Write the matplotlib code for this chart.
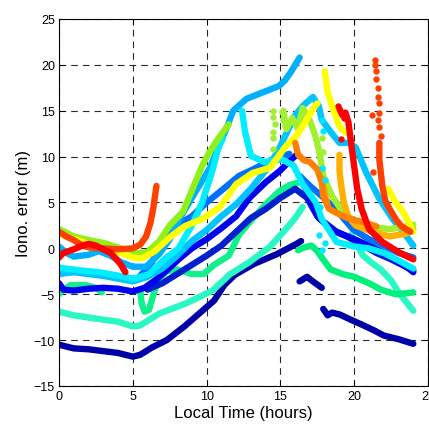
import numpy as np
import matplotlib.pyplot as plt

plt.rcParams['font.family'] = ['Liberation Sans', 'DejaVu Sans']

# traces: (local time in hours, iono error in m)
navy_a = [(0, -10.5), (1, -10.9), (2, -11), (3, -11.2), (4, -11.4), (5, -11.8), (5.5, -11.6),
          (6.3, -10.8), (7.3, -10), (8.5, -8.5), (9.5, -7.1), (10.5, -5.7), (11.2, -4),
          (11.9, -2.9), (13.2, -1.7), (14.8, -0.6), (16.1, 0.5), (16.4, 0.8)]
navy_b = [(16.3, -3.6), (16.8, -3.1), (17.2, -3.6), (17.8, -4.3)]
navy_c = [(17.9, -6.6), (18.2, -7.3), (18.5, -7), (19, -7.2), (19.8, -7.8), (20.5, -8.3),
          (21.3, -8.9), (22, -9.5), (23, -9.9), (24, -10.4)]

teal_a = [(0, -6.9), (1, -7.3), (2.7, -7.7), (4, -8), (5, -8.5), (5.5, -8.4), (6.8, -7.1),
          (8.6, -6), (10.4, -4.6), (11.6, -2.8), (12.9, -1.5), (14.3, 0.2), (15.2, 1.8),
          (16, 3.3), (16.5, 4.5)]
teal_b = [(19.8, 1.5), (20.2, 0.3), (20.6, -0.8), (21.2, -1.6), (21.8, -2.3), (22.5, -3.5),
          (23, -4.8), (23.5, -5.8), (24, -6.8)]

green_v_a = [(0, -5), (0.3, -4.5), (0.8, -4), (1.8, -4), (2.5, -4.3), (2.9, -4.8)]
green_v_b = [(5.5, -4.5), (5.6, -6), (5.8, -6.9), (6.1, -6.7), (6.4, -5), (6.8, -3.2),
             (7.3, -2.5), (8, -2.3), (9, -2.8), (9.8, -2.8), (10.5, -1.8), (11.5, -0.8),
             (12.2, 1.5), (13, 3), (14, 4.8), (14.9, 6.2), (15.6, 6.9), (16.3, 7.2)]
green_b = [(16.2, -0.2), (16.6, 0.1), (17.1, 0.3), (17.5, -0.3), (17.8, -1), (18.4, -2.3),
           (19.2, -2.8), (20, -3.1), (21, -3.8), (21.8, -4.5), (22.8, -5), (23.5, -4.9),
           (24, -4.8)]

blue1_a = [(0, -3.8), (0.3, -4.5), (1, -4.6), (2, -4.4), (3, -4.3), (4, -4.4), (5, -4.7),
           (5.8, -4.3), (6.5, -3.5), (7.3, -2.4), (8.1, -1.2), (9, 0), (10, 1), (11, 2.2),
           (12, 3.5), (12.9, 5.5), (14, 7.2), (15, 8.5), (15.6, 9.5), (16.1, 10.2)]
blue1_b = [(16.4, 7.5), (17, 5.5), (17.6, 3.3), (18.8, 1.8), (20, 1), (21, 0.3), (22, -0.5),
           (23, -1.5), (23.7, -2.2), (24, -2.6)]
blue2 = [(6, -4.5), (7, -3.8), (8, -2.8), (9, -1.8), (10, -0.8), (11, 0.3), (12, 1.8),
         (13, 3.3), (14, 4.3), (15, 5.5), (16, 6.5), (16.8, 5.5), (17.5, 3.5), (18.5, 2),
         (19.5, 1.3), (20.5, 0.4), (21.5, -0.5), (22.5, -1.2), (23.5, -2), (24, -2.4)]
dodger_a = [(5.5, -3), (6.3, -1.5), (7, 1), (8, 2.5), (9, 3.5), (10, 5), (11, 6.3),
            (12.2, 7.9), (13, 8.5), (14, 9.3), (15, 10), (15.6, 10.3)]
dodger_b = [(16.3, 7.9), (17, 6.8), (17.8, 5.7), (19, 3.8), (19.9, 2.1), (21, 1), (22, 0.3),
            (23, -0.5), (24, -1)]

sky1 = [(0, 0.2), (0.5, -0.5), (1, -0.9), (2, -0.7), (2.7, -0.3), (3.5, -0.8), (4.2, -1.5),
        (5, -2), (5.9, -2), (6.8, -0.6), (7.5, 1), (8.2, 3.3), (9.3, 6.3), (10.2, 8.7),
        (10.8, 11), (11.4, 13.3), (11.8, 15), (12.7, 16.3), (13.8, 17), (14.9, 17.7),
        (15.3, 18.3), (15.7, 19.2), (16.3, 20.8)]
sky2 = [(0, -2.8), (1, -2.6), (2, -2.8), (3, -3), (4, -3.3), (5, -3.6), (6, -3.1), (7, -2.2),
        (8, -0.8), (9, 0.8), (10, 2), (11, 3.5), (12, 4.8), (13, 6.5), (14, 8.5), (14.8, 10.5),
        (15.4, 12.5), (16, 14.5), (16.5, 15.5), (17.2, 16.5), (17.6, 15.5), (17.8, 14),
        (18.4, 12.7), (19, 11.5), (19.6, 11.5), (20.1, 11), (20.8, 8.3), (21.7, 5.4),
        (22.6, 3.2), (23.5, 1.4), (24, 0.3)]

cyan_a = [(0, -2.1), (1.4, -2.4), (2.7, -2.6), (4.1, -3), (5.1, -3.3), (6.1, -2.8), (7.2, -1.1),
          (8.1, 0), (9, 2.5), (9.7, 5), (10.4, 8.5), (10.8, 11), (11.1, 12)]
cyan_b = [(12.4, 15), (12.6, 12.7), (13, 10.1), (13.9, 9.4), (15.1, 9.7), (15.9, 9), (16.5, 7),
          (17.4, 5), (17.8, 3.2), (18.8, 0.7), (20, 0.2), (21, 0), (22, -0.5), (23.2, -1.5),
          (24, -2.2)]
cyan_dots = [(17.8, 14), (17.9, 12.8), (17.8, 8.8), (18, 7.5), (17.7, 4.5), (17.6, 1.5),
             (18, 0.6), (17.8, -0.2)]

lime_a = [(0, 2.1), (1, 1.3), (2, 0.9), (3, 0.6), (4, 0.1), (5, -0.6), (6, -0.4), (6.8, 0.8),
          (7.5, 2.5), (8.4, 4), (9, 6.3), (9.7, 9), (10.2, 10.5), (10.8, 12), (11.5, 13.5)]
lime_b = [(15.2, 15), (15.4, 13), (15.8, 14.2), (16.2, 13), (16.5, 15.3), (16.9, 14.3),
          (17.3, 12.6), (17.6, 10.8), (17.8, 9), (17.9, 7.9), (18.5, 5.7), (19.2, 4), (20, 3),
          (20.8, 2.4), (22.4, 2.1), (23.2, 2.3), (24, 2.6)]
lime_dots = [(14.5, 15), (14.5, 14.3), (14.6, 13.5), (14.5, 12.7), (14.5, 12), (14.5, 10.8),
             (15.1, 14.9), (15.2, 14), (15.3, 13.3), (17.8, 12), (17.9, 10.5)]

yellow_a = [(0, 1.6), (1, 1), (2, 0.5), (3, 0), (4, -0.4), (5, -1), (5.6, -1.1), (6.5, -0.3),
            (7.5, 1.2), (8.5, 2.4), (9.7, 3.2), (10.9, 4.5), (12, 7), (13.1, 8.2), (14.3, 8.8),
            (15.4, 11.2), (16.1, 12.3), (16.7, 13.8), (17.2, 15.2), (17.5, 15.8)]
yellow_b = [(18, 19.3), (18.2, 17), (18.6, 15), (19, 13.3), (19.4, 12.6)]
yellow_c = [(22.3, 6.5), (22.8, 5), (23.3, 4), (23.8, 2.5), (24, 1.8)]

amber_a = [(19, 10.2), (19, 8.5), (19.1, 7), (19.3, 5), (19.6, 3.4), (20.1, 2.5), (21.2, 1.8),
           (22.4, 1.3), (23.5, 1.6), (24, 2.1)]
amber_b = [(17.8, 7.6), (18, 6), (18.2, 4.6)]
orange = [(16, 11.5), (16.2, 10.2), (16.6, 9.6), (17, 9.4), (17.5, 8.6), (17.8, 7.2),
          (17.9, 5.7), (18.3, 4.3), (19, 3.7), (19.7, 3.2), (20.5, 2.9), (21.5, 2.4)]

ored_a = [(0, 1.8), (0.5, 1.3), (1, 0.9), (1.5, 0.4), (2, 0.1), (3, 0), (4, -0.1), (5, 0),
          (5.5, 0.4), (5.9, 1.3), (6.2, 2.8), (6.4, 4.5), (6.6, 6.8)]
ored_b = [(21.7, 11.5), (21.7, 9.7), (21.9, 6.8), (22.1, 5.2), (22.4, 4.3), (22.8, 3.2),
          (23.2, 2.4), (23.8, 1.8)]
ored_dots = [(21.4, 20.5), (21.4, 20), (21.5, 19.3), (21.5, 18.5), (21.6, 17.5), (21.6, 16.5),
             (21.7, 15.8), (21.7, 14.8), (21.6, 14), (21.7, 13.2), (21.8, 12.3), (21.2, 14.5),
             (21.3, 8.3)]

red_a = [(0, -1), (0.3, -0.5), (1, -0.1), (1.6, 0.3), (2, 0.5), (2.5, 0.3), (3, -0.1),
         (3.5, -0.5), (3.9, -1.2), (4.2, -1.8), (4.5, -2.6)]
red_b = [(19, 15.2), (19.2, 14.5), (19.4, 14.8), (19.6, 13.8), (19.9, 10.1), (20.2, 6.5),
         (20.5, 4.3), (21, 2.1), (21.9, 0.7), (23, -0.4), (23.6, -0.9), (24, -1.2)]
red_dots = [(19.1, 11.9), (18.9, 15.5), (19.3, 14.2)]

lines = [
    (navy_a, '#0000A8'), (navy_b, '#0000A8'), (navy_c, '#0000A8'),
    (teal_a, '#28F8C4'), (teal_b, '#28F8C4'),
    (green_b, '#00F07C'), (green_v_a, '#10F08C'), (green_v_b, '#10F08C'),
    (blue2, '#0020D0'), (blue1_a, '#0000F0'), (blue1_b, '#0000F0'),
    (dodger_a, '#0070FF'), (dodger_b, '#0070FF'),
    (sky2, '#00C4FF'), (sky1, '#00B0FF'),
    (cyan_a, '#00EEFF'), (cyan_b, '#00EEFF'),
    (lime_a, '#90F018'), (lime_b, '#A0F030'),
    (amber_a, '#FFB000'), (amber_b, '#FFA000'),
    (yellow_a, '#FFFF00'), (yellow_b, '#FFFF00'), (yellow_c, '#FFFF00'),
    (orange, '#FF8000'),
    (ored_a, '#FF4000'), (ored_b, '#FF4000'),
    (red_a, '#FF0000'), (red_b, '#FF0000'),
]
dots = [(cyan_dots, '#00E8FF'), (lime_dots, '#A0F030'), (ored_dots, '#FF4000'),
        (red_dots, '#FF0000')]

fig = plt.figure(figsize=(4.29, 4.27), dpi=100)
ax = fig.add_axes([0.1375, 0.0937, 0.8603, 0.8595])

for pts, c in lines:
    t, v = zip(*pts)
    ax.plot(t, v, color=c, lw=4.6, solid_capstyle='round', solid_joinstyle='round')
for pts, c in dots:
    t, v = zip(*pts)
    ax.plot(t, v, 'o', color=c, ms=4.6, mec='none')

ax.set_xlim(0, 25)
ax.set_ylim(-15, 25)
ax.set_xticks(np.arange(0, 26, 5))
ax.set_yticks(np.arange(-15, 26, 5))
ax.grid(True, color='#2a2a2a', lw=0.8, linestyle=(0, (6, 4.5)))
ax.set_axisbelow(True)
ax.tick_params(direction='in', top=True, right=True, length=4, width=0.7,
               labelsize=9, pad=3)
for s in ax.spines.values():
    s.set_linewidth(0.8)
ax.set_xlabel('Local Time (hours)', fontsize=12, labelpad=2)
ax.set_ylabel('Iono. error (m)', fontsize=12, labelpad=2)

fig.savefig('out.png', dpi=100)
